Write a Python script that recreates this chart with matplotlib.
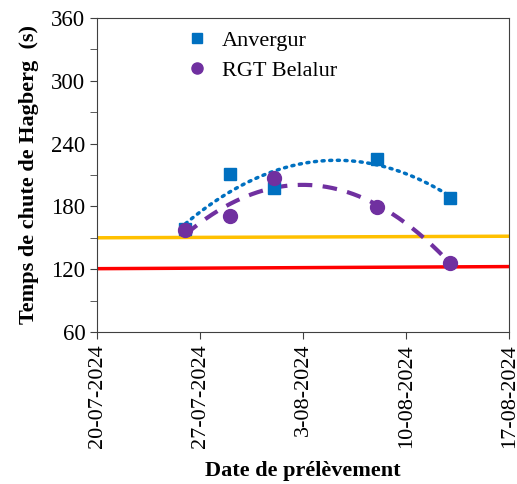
import numpy as np
import matplotlib
matplotlib.use("Agg")
import matplotlib.pyplot as plt
import matplotlib.dates as mdates
from datetime import datetime

plt.rcParams['font.family'] = ['Liberation Serif', 'DejaVu Serif']

# sampling dates and Hagberg falling numbers
dates = ["26-07-2024", "29-07-2024", "01-08-2024", "08-08-2024", "13-08-2024"]
anvergur = [158, 211, 198, 225, 188]
belalur = [157, 171, 207, 179, 126]

# reference thresholds (start / end of axis)
limit_dates = ["20-07-2024", "17-08-2024"]
limit_orange = [150, 151.5]
limit_red = [120.5, 122.5]

tick_dates = ["20-07-2024", "27-07-2024", "3-08-2024", "10-08-2024", "17-08-2024"]

x = [datetime.strptime(d, "%d-%m-%Y") for d in dates]
xl = [datetime.strptime(d, "%d-%m-%Y") for d in limit_dates]
xt = [datetime.strptime(d, "%d-%m-%Y") for d in tick_dates]

fig = plt.figure(figsize=(5.17, 4.84), dpi=100)
ax = fig.add_axes([0.188, 0.314, 0.797, 0.649])

blue = '#0070C0'
purple = '#7030A0'

# horizontal limits
ax.plot(xl, limit_orange, color='#FFC000', lw=2.5, zorder=1)
ax.plot(xl, limit_red, color='#FF0000', lw=2.5, zorder=1)

# second order trend lines
xn = mdates.date2num(x)
xs = np.linspace(xn[0], xn[-1], 200)
pa = np.polyfit(xn, anvergur, 2)
pb = np.polyfit(xn, belalur, 2)
ax.plot(mdates.num2date(xs), np.polyval(pa, xs), color=blue, lw=2.5,
        linestyle=(0, (0.6, 1.6)), dash_capstyle='round', zorder=2)
ax.plot(mdates.num2date(xs), np.polyval(pb, xs), color=purple, lw=3,
        linestyle=(0, (3.5, 2.5)), zorder=2)

ax.plot(x, anvergur, 's', color=blue, ms=9, label='Anvergur', zorder=3)
ax.plot(x, belalur, 'o', color=purple, ms=10, label='RGT Belalur', zorder=3)

ax.set_xlim(xl[0], xl[1])
ax.set_ylim(60, 360)
ax.set_yticks(range(60, 361, 60))
ax.set_yticks(range(90, 360, 60), minor=True)
ax.set_xticks(xt)
ax.set_xticklabels(tick_dates, rotation=90, fontsize=16)
ax.tick_params(axis='y', labelsize=16.5)
ax.tick_params(direction='out', length=5, color='#404040')
ax.tick_params(axis='y', which='minor', direction='out', length=5, color='#404040')

for s in ax.spines.values():
    s.set_color('#404040')

ax.set_xlabel('Date de prélèvement', fontsize=16, fontweight='bold', labelpad=10)
ax.set_ylabel('Temps de chute de Hagberg  (s)', fontsize=16, fontweight='bold', labelpad=9)

ax.legend(loc='upper left', bbox_to_anchor=(0.14, 1.025), frameon=False,
          fontsize=16, handletextpad=0.1, labelspacing=0.45, markerscale=0.8)

fig.savefig('out.png', dpi=100)
